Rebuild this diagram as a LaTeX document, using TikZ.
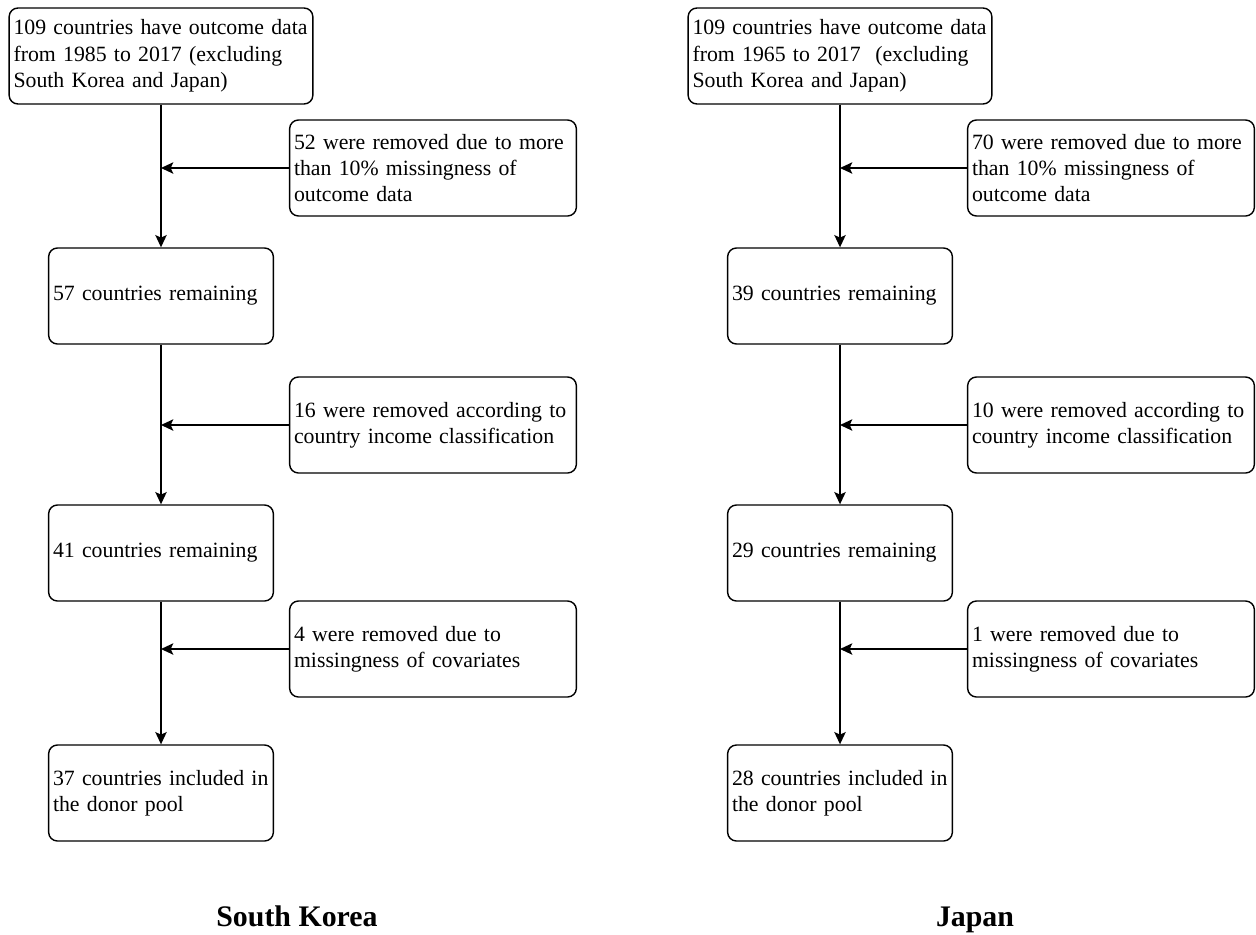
\documentclass[tikz,border=0pt]{standalone}
\usepackage{fontspec}
\setmainfont{Liberation Serif}
\usetikzlibrary{arrows.meta}
\tikzset{>={Stealth[length=7pt,width=6.5pt,inset=1.5pt]}}
\tikzset{
  box/.style={draw, line width=0.8pt, rounded corners=5pt, align=left,
    inner xsep=2.5pt, inner ysep=0pt, minimum height=1.92cm,
    font=\fontsize{12.4}{15}\selectfont},
  topbox/.style={box, text width=5.9cm},
  stepbox/.style={box, text width=4.32cm},
  cutbox/.style={box, text width=5.56cm},
  title/.style={anchor=base, font=\fontsize{17}{20}\selectfont\bfseries}
}

\begin{document}
\begin{tikzpicture}[x=0.02cm,y=-0.02cm,line width=0.8pt]
            \draw[draw=none,use as bounding box] (0,0) rectangle (1256,934);
            % South Korea
            \node[topbox] (k1) at (161,56) {109 countries have outcome data\\from 1985 to 2017 (excluding\\South Korea and Japan)};
            \node[cutbox] (kr1) at (433,168) {52 were removed due to more\\than 10\% missingness of\\outcome data};
            \node[stepbox] (k2) at (161,296) {57 countries remaining};
            \node[cutbox] (kr2) at (433,425) {16 were removed according to\\country income classification};
            \node[stepbox] (k3) at (161,553) {41 countries remaining};
            \node[cutbox] (kr3) at (433,649) {4 were removed due to\\missingness of covariates};
            \node[stepbox] (k4) at (161,793) {37 countries included in\\the donor pool};
            \node[title] (kt) at (297,926) {South Korea};
            \draw[->] (k1) -- (k2);
            \draw[->] (k2) -- (k3);
            \draw[->] (k3) -- (k4);
            \draw[->] (kr1) -- (kr1 -| k1);
            \draw[->] (kr2) -- (kr2 -| k2);
            \draw[->] (kr3) -- (kr3 -| k3);
            % Japan
            \node[topbox] (j1) at (840,56) {109 countries have outcome data\\from 1965 to 2017 \ (excluding\\South Korea and Japan)};
            \node[cutbox] (jr1) at (1111,168) {70 were removed due to more\\than 10\% missingness of\\outcome data};
            \node[stepbox] (j2) at (840,296) {39 countries remaining};
            \node[cutbox] (jr2) at (1111,425) {10 were removed according to\\country income classification};
            \node[stepbox] (j3) at (840,553) {29 countries remaining};
            \node[cutbox] (jr3) at (1111,649) {1 were removed due to\\missingness of covariates};
            \node[stepbox] (j4) at (840,793) {28 countries included in\\the donor pool};
            \node[title] (jt) at (975,926) {Japan};
            \draw[->] (j1) -- (j2);
            \draw[->] (j2) -- (j3);
            \draw[->] (j3) -- (j4);
            \draw[->] (jr1) -- (jr1 -| j1);
            \draw[->] (jr2) -- (jr2 -| j2);
            \draw[->] (jr3) -- (jr3 -| j3);
        \end{tikzpicture}
\end{document}
